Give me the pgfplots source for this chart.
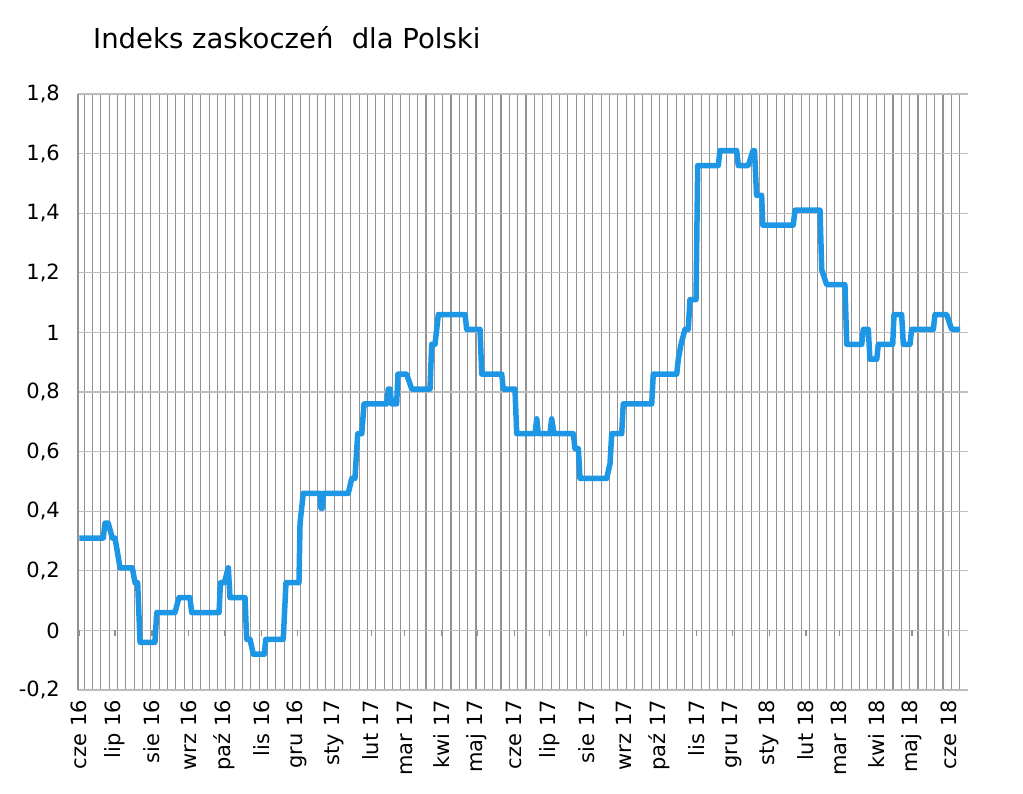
\documentclass[border=0pt]{standalone}
\usepackage{fontspec}
\setmainfont{DejaVu Sans}
\usepackage{pgfplots}
\pgfplotsset{compat=1.18}
\definecolor{linia}{RGB}{30,150,230}
\definecolor{siatkav}{RGB}{145,145,145}
\definecolor{siatkah}{RGB}{190,190,190}

\begin{document}
\begin{tikzpicture}
\useasboundingbox (0,0) rectangle (1023pt,793pt);
\node[anchor=base west, inner sep=0pt, font=\fontsize{27.5}{32}\selectfont] at (93pt,744pt) {Indeks zaskoczeń\hspace{0.35em} dla Polski};
\begin{axis}[
  at={(78pt,103pt)}, anchor=south west,
  scale only axis, width=890pt, height=596pt,
  xmin=-1.09, xmax=746, ymin=-0.2, ymax=1.8,
  axis line style={draw=none},
  major tick length=0pt, minor tick length=0pt,
  ytick={-0.2,0,0.2,0.4,0.6,0.8,1,1.2,1.4,1.6,1.8},
  yticklabels={{-0,2},{0},{0,2},{0,4},{0,6},{0,8},{1},{1,2},{1,4},{1,6},{1,8}},
  ymajorgrids, major grid style={siatkah, line width=1.2pt},
  xtick={0,30,61,92,122,153,183,214,245,273,304,334,365,395,426,457,487,518,548,579,610,638,669,699,730},
  xticklabels={cze 16,lip 16,sie 16,wrz 16,paź 16,lis 16,gru 16,sty 17,lut 17,mar 17,kwi 17,maj 17,cze 17,lip 17,sie 17,wrz 17,paź 17,lis 17,gru 17,sty 18,lut 18,mar 18,kwi 18,maj 18,cze 18},
  minor xtick={4,11,...,739},
  xminorgrids, minor grid style={siatkav, line width=1.1pt},
  tick label style={font=\fontsize{21}{25}\selectfont, inner sep=0pt},
  yticklabel shift=18pt,
  xticklabel shift=10pt,
  xticklabel style={rotate=90, anchor=east},
  clip=false,
]
\draw[siatkav, line width=1.1pt] (rel axis cs:0,0) -- (rel axis cs:0,1);
\pgfplotsinvokeforeach{0,30,61,92,122,153,183,214,245,273,304,334,365,395,426,457,487,518,548,579,610,638,669,699,730}{
  \draw[siatkav, line width=1.1pt] (axis cs:#1,0) -- ([yshift=-6pt]axis cs:#1,0);
}
\addplot[linia, line width=5.5pt, line join=round, mark=none] coordinates {
(0,0.31) (20.1,0.31) (21.6,0.36) (24.3,0.36) (27.7,0.31) (30.0,0.31)
(34.2,0.21) (44.5,0.21) (46.8,0.16) (49.0,0.16) (51.0,-0.04) (63.5,-0.04)
(65.0,0.06) (80.3,0.06) (83.7,0.11) (92.9,0.11) (94.3,0.06) (117.3,0.06)
(118.5,0.16) (121.7,0.16) (125.1,0.21) (126.5,0.11) (139.1,0.11) (140.5,-0.03)
(143.3,-0.03) (146.1,-0.08) (155.3,-0.08) (156.5,-0.03) (171.2,-0.03) (173.5,0.16)
(184.4,0.16) (185.3,0.36) (188.0,0.46) (202.0,0.46) (202.9,0.41) (204.0,0.41)
(204.8,0.46) (225.8,0.46) (228.7,0.51) (231.4,0.51) (233.7,0.66) (237.1,0.66)
(239.0,0.76) (258.0,0.76) (259.4,0.81) (260.8,0.81) (262.2,0.76) (266.4,0.76)
(267.5,0.86) (274.8,0.86) (279.0,0.81) (294.4,0.81) (295.8,0.96) (298.6,0.96)
(301.4,1.06) (323.8,1.06) (325.2,1.01) (336.4,1.01) (337.8,0.86) (354.6,0.86)
(355.9,0.81) (365.7,0.81) (367.2,0.66) (382.5,0.66) (384.0,0.71) (385.3,0.66)
(395.1,0.66) (396.5,0.71) (398.5,0.66) (414.7,0.66) (416.1,0.61) (418.9,0.61)
(420.3,0.51) (442.7,0.51) (445.5,0.56) (446.9,0.66) (455.3,0.66) (456.6,0.76)
(480.5,0.76) (481.8,0.86) (501.5,0.86) (502.8,0.91) (505.1,0.96) (508.4,1.01)
(511.2,1.01) (512.6,1.11) (517.7,1.11) (519.1,1.56) (536.4,1.56) (537.8,1.61)
(551.8,1.61) (553.2,1.56) (561.6,1.56) (565.5,1.61) (566.8,1.61) (568.5,1.46)
(572.8,1.46) (573.7,1.36) (599.3,1.36) (600.8,1.41) (621.8,1.41) (623.2,1.21)
(627.4,1.16) (642.7,1.16) (644.2,0.96) (656.8,0.96) (658.1,1.01) (662.3,1.01)
(663.7,0.91) (669.4,0.91) (670.7,0.96) (682.8,0.96) (683.9,1.06) (690.3,1.06)
(691.7,0.96) (697.3,0.96) (698.7,1.01) (716.9,1.01) (718.3,1.06) (728.1,1.06)
(732.3,1.01) (739.3,1.01)
};
\end{axis}
\end{tikzpicture}
\end{document}
